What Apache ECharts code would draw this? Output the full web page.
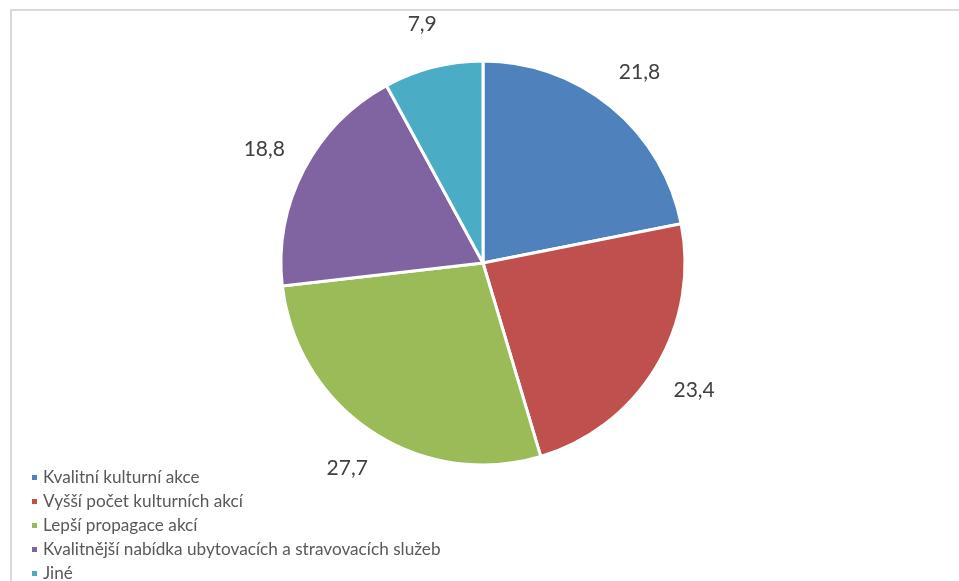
<!DOCTYPE html>
<html><head><meta charset="utf-8">
<script src="https://cdn.jsdelivr.net/npm/echarts@6/dist/echarts.min.js"></script>
<style>html,body{margin:0;padding:0;background:#fff}#c{width:959px;height:581px}
#frame{position:absolute;left:10px;top:9px;width:960px;height:600px;border-left:2px solid #d9d9d9;border-top:2px solid #d9d9d9;box-sizing:border-box;pointer-events:none}</style>
</head><body><div id="c"></div><div id="frame"></div>
<script>
var categories = ["Kvalitní kulturní akce","Vyšší počet kulturních akcí","Lepší propagace akcí","Kvalitnější nabídka ubytovacích a stravovacích služeb","Jiné"];
var values = [21.8, 23.4, 27.7, 18.8, 7.9];
var colors = ["#4f81bd","#c0504d","#9bbb59","#8064a2","#4bacc6"];
var chart = echarts.init(document.getElementById('c'));
var pieData = categories.map(function(c,i){return {name:c,value:values[i]};});
chart.setOption({
  animation:false,
  color: colors,
  legend:{orient:'vertical',left:25,top:464,height:200,itemWidth:7,itemHeight:7,itemGap:7,icon:'rect',
    textStyle:{fontFamily:'Lato',fontSize:17.2,color:'#595959'},
    data:categories.map(function(c,i){return {name:c,itemStyle:{color:colors[i]}};})},
  series:[
    {type:'pie',center:[483,263],radius:[0,202],startAngle:90,clockwise:true,silent:true,
      itemStyle:{borderColor:'#fff',borderWidth:3},
      label:{show:false},labelLine:{show:false},
      data: pieData},
    {type:'pie',center:[483,263],radius:[200,287],startAngle:90,clockwise:true,silent:true,
      itemStyle:{color:'rgba(0,0,0,0)',borderWidth:0},
      label:{show:true,position:'inside',fontFamily:'Lato',fontSize:21,color:'#404040',
        formatter:function(p){return String(p.value).replace('.',',');}},
      labelLine:{show:false},
      data: pieData}
  ]
});
</script></body></html>
